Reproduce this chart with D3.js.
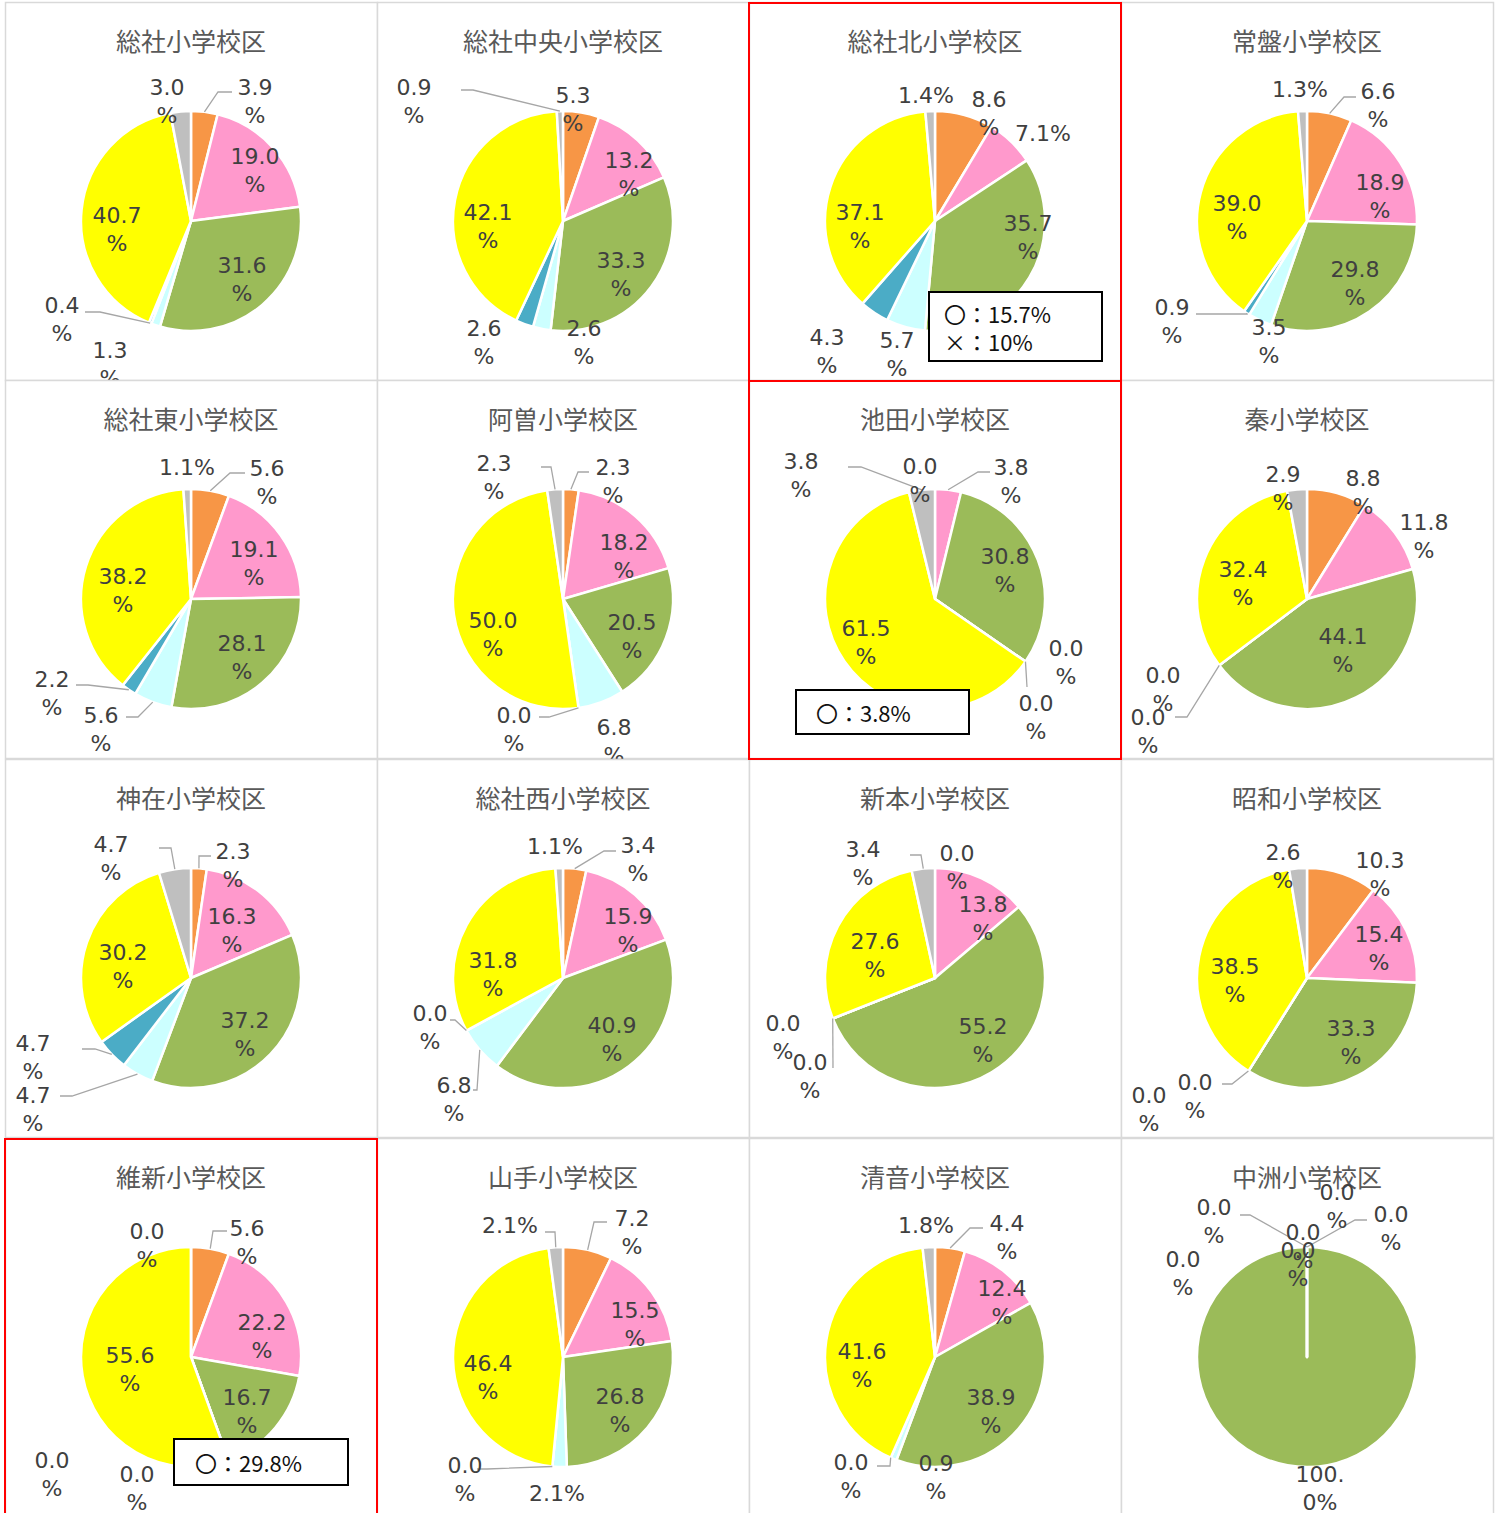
<!DOCTYPE html>
<html><head><meta charset="utf-8">
<script src="https://cdn.jsdelivr.net/npm/d3@7"></script>
<style>body{margin:0;background:#fff;overflow:hidden} svg{display:block}</style>
</head><body>
<script>
// ---------- DATA ----------
const schools = ["総社小学校区","総社中央小学校区","総社北小学校区","常盤小学校区",
  "総社東小学校区","阿曽小学校区","池田小学校区","秦小学校区",
  "神在小学校区","総社西小学校区","新本小学校区","昭和小学校区",
  "維新小学校区","山手小学校区","清音小学校区","中洲小学校区"];
const categories = ["項目1","項目2","項目3","項目4","項目5","項目6","項目7"];
const sliceColors = ["#F79646","#FF99CC","#9BBB59","#CCFFFF","#4BACC6","#FFFF00","#BFBFBF"];
const shares = [
  [3.9,19.0,31.6,1.3,0.4,40.7,3.0],
  [5.3,13.2,33.3,2.6,2.6,42.1,0.9],
  [8.6,7.1,35.7,5.7,4.3,37.1,1.4],
  [6.6,18.9,29.8,3.5,0.9,39.0,1.3],
  [5.6,19.1,28.1,5.6,2.2,38.2,1.1],
  [2.3,18.2,20.5,6.8,0.0,50.0,2.3],
  [0.0,3.8,30.8,0.0,0.0,61.5,3.8],
  [8.8,11.8,44.1,0.0,0.0,32.4,2.9],
  [2.3,16.3,37.2,4.7,4.7,30.2,4.7],
  [3.4,15.9,40.9,6.8,0.0,31.8,1.1],
  [0.0,13.8,55.2,0.0,0.0,27.6,3.4],
  [10.3,15.4,33.3,0.0,0.0,38.5,2.6],
  [5.6,22.2,16.7,0.0,0.0,55.6,0.0],
  [7.2,15.5,26.8,2.1,0.0,46.4,2.1],
  [4.4,12.4,38.9,0.9,0.0,41.6,1.8],
  [0.0,0.0,100.0,0.0,0.0,0.0,0.0]
];
const notes = [null,null,["〇：15.7%","×：10%"],null,
  null,null,["〇：3.8%"],null,
  null,null,null,null,
  ["〇：29.8%"],null,null,null];
const highlighted = [2,6,12];

// ---------- LAYOUT (label placement relative to pie centre) ----------
const labelOffsets = [
  [[64,-134],[64,-65],[51,44],[-81,129],[-129,84],[-74,-6],[-24,-134]],
  [[10,-126],[66,-61],[58,39],[21,107],[-79,107],[-75,-9],[-149,-134]],
  [[54,-122],[108,-88],[93,2],[-38,119],[-108,116],[-75,-9],[-9,-126]],
  [[71,-130],[73,-39],[48,48],[-38,106],[-135,86],[-70,-18],[-7,-132]],
  [[76,-131],[63,-50],[51,44],[-90,116],[-139,80],[-68,-23],[-4,-132]],
  [[50,-132],[61,-57],[69,23],[51,128],[-49,116],[-70,21],[-69,-136]],
  [[-15,-133],[76,-132],[70,-43],[131,49],[101,104],[-69,29],[-134,-138]],
  [[56,-121],[117,-77],[36,37],[-144,76],[-159,118],[-64,-30],[-24,-125]],
  [[42,-127],[41,-62],[54,42],[-158,117],[-158,65],[-68,-26],[-80,-134]],
  [[75,-133],[65,-62],[49,47],[-109,107],[-133,35],[-70,-18],[-8,-132]],
  [[22,-125],[48,-74],[48,48],[-152,45],[-125,84],[-60,-37],[-72,-129]],
  [[73,-118],[72,-44],[44,50],[-112,104],[-158,117],[-72,-12],[-24,-126]],
  [[56,-129],[71,-35],[56,40],[-54,117],[-139,103],[-61,-2],[-44,-126]],
  [[69,-139],[72,-47],[57,39],[-6,136],[-98,108],[-75,6],[-53,-132]],
  [[72,-134],[67,-69],[56,40],[1,106],[-84,105],[-73,-6],[-9,-132]],
  [[30,-165],[84,-143],[13,117],[-4,-125],[-9,-107],[-124,-98],[-93,-150]]
];
const singleLine = {2:[1,6],3:[6],4:[6],9:[6],13:[3,6],14:[6]};
const leaders = {
  0:{0:[27,-129,41],4:[-91,91,-106]},
  1:{6:[-90,-131,-102]},
  3:{0:[37,-124,49],4:[-60,93,-111]},
  4:{0:[39,-126,54],3:[-53,118,-65],4:[-103,86,-115]},
  5:{0:[15,-127,26],4:[-14,118,-24],6:[-12,-132,-22]},
  6:{1:[43,-127,55],4:[92,88,92],6:[-74,-132,-87]},
  7:{4:[-120,118,-132]},
  8:{0:[8,-122,20],3:[-119,118,-131],4:[-96,71,-109],6:[-20,-130,-32]},
  9:{0:[41,-127,53],3:[-86,112,-90],4:[-108,42,-113]},
  10:{4:[-102,90,-102],6:[-14,-123,-25]},
  11:{3:[-75,106,-85]},
  12:{0:[22,-126,36]},
  13:{0:[31,-135,44],4:[-76,112,-86],6:[-8,-125,-18]},
  14:{0:[35,-129,48],4:[-45,109,-58]},
  15:{1:[48,-137,60],6:[-57,-142,-67]}
};
const noteBoxes = {2:[-6,71,173,69,15], 6:[-139,91,173,44,20], 12:[-17,82,174,46,21]};

// ---------- DRAW ----------
const W = 1501, H = 1513;
const colX = [5,377,749,1121], rowY = [2,380,759,1138];
const cellW = 372, cellH = 378, R = 110, pcx = 186, pcy = 219;
const FONT = "'Noto Sans CJK JP','Noto Sans',sans-serif";
const LABEL_FONT = "'DejaVu Sans','Noto Sans',sans-serif";

const svg = d3.select("body").append("svg").attr("width",W).attr("height",H)
  .style("font-family",FONT);

const pie = d3.pie().sort(null).value(d => d);
const arc = d3.arc().innerRadius(0).outerRadius(R);

schools.forEach((name,i) => {
  const cx = colX[i%4], cy = rowY[Math.floor(i/4)];
  const cell = svg.append("g").attr("transform",`translate(${cx},${cy})`);
  cell.append("rect").attr("x",0.5).attr("y",0.5).attr("width",cellW).attr("height",cellH)
    .attr("fill","#fff").attr("stroke","#D9D9D9").attr("stroke-width",1.5);
  cell.append("text").attr("x",pcx).attr("y",38).attr("text-anchor","middle")
    .attr("dominant-baseline","central").attr("font-size",25).attr("fill","#595959").text(name);

  const g = cell.append("g").attr("transform",`translate(${pcx},${pcy})`);
  const arcs = pie(shares[i]);
  g.selectAll("path.slice").data(arcs).join("path").attr("class","slice")
    .attr("d",arc).attr("fill",(d,k)=>sliceColors[k])
    .attr("stroke","#fff").attr("stroke-width",2.5).attr("stroke-linejoin","round");

  // leader lines
  const ld = leaders[i] || {};
  Object.keys(ld).forEach(k => {
    const a = arcs[+k]; const m = (a.startAngle + a.endAngle)/2;
    const sx = R*Math.sin(m), sy = -R*Math.cos(m);
    const [ex,ey,hx] = ld[k];
    g.append("path").attr("d",`M${sx},${sy}L${ex},${ey}L${hx},${ey}`)
      .attr("fill","none").attr("stroke","#A6A6A6").attr("stroke-width",1.3);
  });

  // labels
  const single = singleLine[i] || [];
  arcs.forEach((a,k) => {
    const [dx,dy] = labelOffsets[i][k];
    const txt = a.data.toFixed(1) + "%";
    let lines;
    if (single.includes(k)) lines = [txt];
    else if (a.data >= 100) lines = [txt.slice(0,4), txt.slice(4)];
    else lines = [txt.slice(0,-1), "%"];
    const t = g.append("text").attr("text-anchor","middle").attr("font-size",22)
      .attr("font-family",LABEL_FONT).attr("fill","#404040");
    lines.forEach((ln,j) => t.append("tspan").attr("x",dx).attr("y",dy + j*28)
      .attr("dominant-baseline","central").text(ln));
  });

  // note box
  if (notes[i]) {
    const [bx,by,bw,bh,tx] = noteBoxes[i];
    g.append("rect").attr("x",bx).attr("y",by).attr("width",bw).attr("height",bh)
      .attr("fill","#fff").attr("stroke","#000").attr("stroke-width",2);
    notes[i].forEach((n,j) => g.append("text").attr("x",bx+tx).attr("y",by + bh/2 + (j - (notes[i].length-1)/2)*28)
      .attr("dominant-baseline","central").attr("font-size",22).attr("fill","#111").text(n));
  }
});

// highlighted frames on top
highlighted.forEach(i => {
  svg.append("rect").attr("x",colX[i%4]).attr("y",rowY[Math.floor(i/4)]+1)
    .attr("width",cellW).attr("height",cellH).attr("fill","none")
    .attr("stroke","#FF0000").attr("stroke-width",2);
});
</script>
</body></html>
